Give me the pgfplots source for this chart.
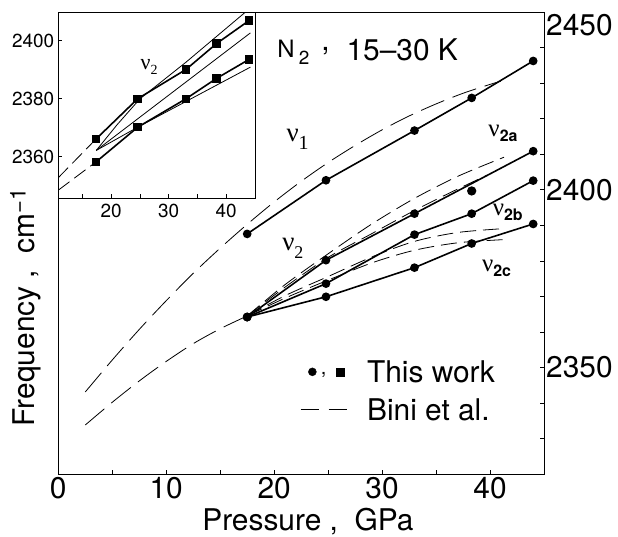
\documentclass[border=0pt]{standalone}
\usepackage{fontspec}
\setmainfont{TeX Gyre Heros}
\newfontfamily\greekserif{Liberation Serif}
\usepackage{pgfplots}
\pgfplotsset{compat=1.18}
\pgfplotsset{/pgf/number format/assume math mode=true, /pgf/number format/1000 sep={}}
\newcommand{\bigfnt}{\fontsize{30}{36}\selectfont}
\begin{document}
\begin{tikzpicture}
% ---------------- main axis ----------------
\begin{axis}[
  at={(0,0)}, anchor=south west,
  scale only axis, width=485.7bp, height=461.7bp,
  xmin=0, xmax=45, ymin=2320, ymax=2450,
  xtick={0,10,20,30,40}, minor xtick={5,15,25,35},
  ytick={2350,2400}, minor ytick={2330,2340,2360,2370,2380,2390,2410,2420,2430,2440},
  extra y ticks={2450}, extra y tick style={yticklabel style={anchor=north west}},
  xtick pos=left, ytick pos=right, yticklabel pos=right,
  tick align=inside,
  major tick length=4bp, minor tick length=4bp,
  axis line style={line width=0.8bp},
  every tick/.style={black, line width=0.8bp},
  tick label style={font=\bigfnt},
  xticklabel style={inner sep=3bp},
  yticklabel style={inner sep=2bp},
  every axis x label/.style={at={(axis description cs:0.514,-0.102)}, anchor=center, font=\bigfnt},
  every axis y label/.style={at={(axis description cs:-0.0672,0.361)}, anchor=center, rotate=90, font=\bigfnt},
  xlabel={Pressure , \ GPa},
  ylabel={Frequency , \ cm\raisebox{9bp}{\fontsize{22}{22}\selectfont −1}},
  legend style={at={(axis description cs:0.4982,0.2451)}, anchor=north west,
    draw=none, fill=none, inner sep=0pt, outer sep=0pt,
    font=\bigfnt, row sep=15.6bp, column sep=19bp,
    nodes={inner sep=0pt, text height=22bp, text depth=0bp}},
  legend cell align=left,
]
\addlegendimage{legend image code/.code={
  \path[draw=none, fill=none] (0bp,-4bp) rectangle (47bp,4bp);
  \fill[black] (11.7bp,0bp) circle (4bp);
  \node[inner sep=0pt, text height=0pt, text depth=0pt, anchor=base] at (23bp,-3bp) {\fontsize{20}{20}\selectfont ,};
  \fill[black] (36bp,-4bp) rectangle (44bp,4bp);
}}
\addlegendentry{This work}
\addlegendimage{legend image code/.code={
  \draw[black, line width=0.8bp, dash pattern=on 18bp off 10bp] (0bp,0bp) -- (47bp,0bp);
}}
\addlegendentry{Bini et al.}

% Bini et al. (dashed)
\addplot[black, line width=0.8bp, dash pattern=on 25bp off 9bp, smooth, forget plot] coordinates {
 (2.5,2343.1) (5,2352.1) (7.5,2360.7) (10,2368.8) (12.5,2376.5) (15,2383.6) (17.5,2390.3)
 (20,2396.6) (22.5,2402.4) (25,2407.7) (27.5,2412.5) (30,2416.9) (32.5,2420.8) (35,2424.2)
 (37.5,2427.2) (40,2429.7) (41,2430.6)};
\addplot[black, line width=0.8bp, dash pattern=on 25bp off 9bp, smooth, forget plot] coordinates {
 (2.5,2333.8) (5,2340.2) (7.5,2346.2) (10,2351.7) (12.5,2356.7) (15,2360.9) (17.5,2364.5)};
\addplot[black, line width=0.8bp, dash pattern=on 16bp off 7bp, smooth, forget plot] coordinates {
 (17.5,2364.5) (21,2373.3) (25,2382) (29,2390.3) (33,2397.6) (37,2403.8) (41.3,2409.2)};
\addplot[black, line width=0.8bp, dash pattern=on 16bp off 7bp, smooth, forget plot] coordinates {
 (17.5,2364.5) (21,2372.6) (25,2381) (29,2387.6) (33,2394.2) (36.5,2399.5) (39.7,2404.1)};
\addplot[black, line width=0.8bp, dash pattern=on 16bp off 7bp, smooth, forget plot] coordinates {
 (17.5,2364.5) (21,2370.2) (25,2375.6) (29.2,2381.3) (33,2385.5) (37,2388) (41.3,2389.1)};
\addplot[black, line width=0.8bp, dash pattern=on 16bp off 7bp, smooth, forget plot] coordinates {
 (17.5,2364.5) (21,2369.5) (25,2374.6) (29.2,2379.6) (33,2383) (37,2385.1) (41.3,2386)};

% This work (solid with circles)
\addplot[black, line width=1.6bp, mark=*, mark size=3.5bp, forget plot] coordinates {
 (17.5,2387.6) (24.8,2402.7) (33,2416.7) (38.3,2425.9) (44,2436.3)};
\addplot[black, line width=1.6bp, mark=*, mark size=3.5bp, forget plot] coordinates {
 (17.5,2364.2) (24.8,2380.2) (33,2393.3) (44,2410.9)};
\addplot[black, only marks, line width=1.6bp, mark=*, mark size=3.8bp, forget plot] coordinates {
 (38.3,2399.7)};
\addplot[black, line width=1.6bp, mark=*, mark size=3.5bp, forget plot] coordinates {
 (17.5,2364.2) (24.8,2373.6) (33,2387.4) (38.3,2393.3) (44,2402.6)};
\addplot[black, line width=1.6bp, mark=*, mark size=3.5bp, forget plot] coordinates {
 (17.5,2364.2) (24.8,2369.9) (33,2378.1) (38.3,2384.9) (44,2390.4)};

% labels
\node at (axis cs:22.17,2414.2) {\greekserif\fontsize{27}{27}\selectfont ν\raisebox{-8bp}{\fontsize{20}{20}\selectfont 1}};
\node at (axis cs:21.73,2383.5) {\greekserif\fontsize{27}{27}\selectfont ν\raisebox{-8bp}{\fontsize{18}{18}\selectfont 2}};
\node at (axis cs:41.2,2416.0) {{\greekserif\fontsize{25}{25}\selectfont ν}\raisebox{-5bp}{\fontsize{16}{16}\selectfont\bfseries 2a}};
\node at (axis cs:41.64,2393.8) {{\greekserif\fontsize{25}{25}\selectfont ν}\raisebox{-5bp}{\fontsize{16}{16}\selectfont\bfseries 2b}};
\node at (axis cs:40.6,2377.8) {{\greekserif\fontsize{25}{25}\selectfont ν}\raisebox{-5bp}{\fontsize{16}{16}\selectfont\bfseries 2c}};
\node[anchor=base west, inner sep=0pt] at (axis cs:20.29,2436.4) {\raisebox{3bp}{\fontsize{24}{24}\selectfont N}\hspace{4bp}\raisebox{-4bp}{\fontsize{19}{19}\selectfont 2}\hspace{12bp}\raisebox{10bp}{\bigfnt ,}\hspace{17bp}{\bigfnt 15–30 K}};
\end{axis}

% ---------------- inset ----------------
\begin{axis}[
  at={(0,461.7bp)}, anchor=north west,
  scale only axis, width=196.7bp, height=186bp,
  xmin=10.8, xmax=45, ymin=2345.7, ymax=2409.8,
  axis background/.style={fill=white},
  xtick={20,30,40}, minor xtick={15,25,35},
  ytick={2360,2380,2400},
  xtick pos=left, ytick pos=left,
  tick align=inside,
  major tick length=4bp, minor tick length=4bp,
  axis line style={line width=0.8bp},
  every tick/.style={black, line width=0.8bp},
  tick label style={font=\fontsize{19}{23}\selectfont},
  xticklabel style={inner sep=6bp},
  yticklabel style={inner sep=4bp},
]
\addplot[black, line width=0.8bp, dash pattern=on 14bp off 6bp] coordinates {(10.8,2352.8) (17.3,2366.0)};
\addplot[black, line width=0.8bp, dash pattern=on 14bp off 6bp] coordinates {(10.8,2348.5) (17.4,2358.3)};
\addplot[black, line width=0.8bp] coordinates {(17.4,2362.2) (21,2371) (25,2380.0) (33,2392.6) (43.3,2409.8)};
\addplot[black, line width=0.8bp] coordinates {(17.4,2362.2) (44.2,2402.7)};
\addplot[black, line width=0.8bp] coordinates {(17.4,2362.2) (24.6,2370.2) (44.2,2390.9)};
\addplot[black, line width=1.6bp, mark=square*, mark size=3.4bp] coordinates {
 (17.4,2366.2) (24.6,2380) (33,2390.1) (38.3,2399) (44,2407)};
\addplot[black, line width=1.6bp, mark=square*, mark size=3.4bp] coordinates {
 (17.4,2358.3) (24.6,2370.2) (33,2380) (38.3,2387) (44,2393.6)};
\node at (axis cs:26.6,2391.0) {\greekserif\fontsize{22}{22}\selectfont ν\raisebox{-5bp}{\fontsize{14}{14}\selectfont 2}};
\end{axis}
\pgfresetboundingbox
\path (-58.3bp,-63bp) rectangle (559.7bp,474bp);
\end{tikzpicture}
\end{document}
